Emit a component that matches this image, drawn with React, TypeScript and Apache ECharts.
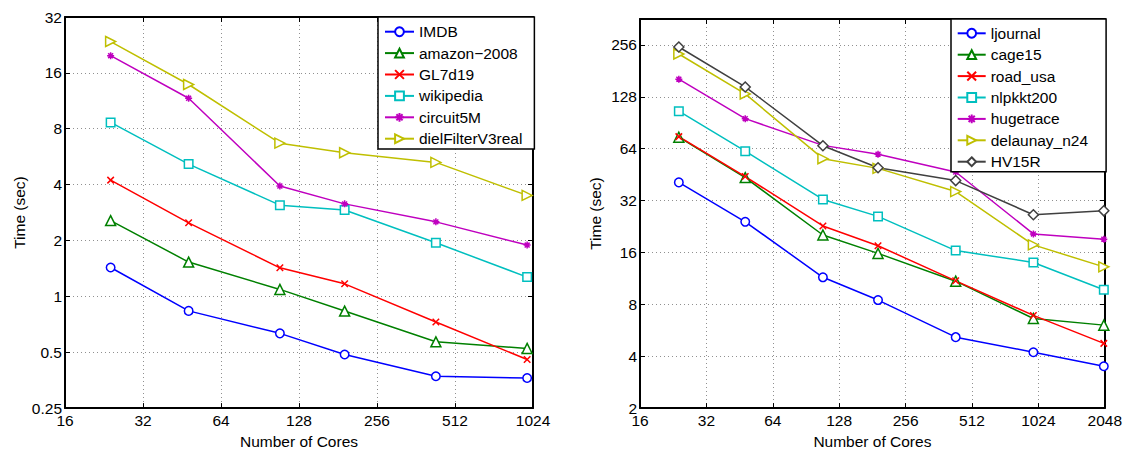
import React, { useEffect, useRef } from "react";
import * as echarts from "echarts";

const leftCores = [24, 48, 108, 192, 432, 972];
const rightCores = [24, 48, 108, 192, 432, 972, 2028];

const leftNames = ["IMDB", "amazon\u22122008", "GL7d19", "wikipedia", "circuit5M", "dielFilterV3real"];
const imdb = [1.43, 0.835, 0.632, 0.486, 0.371, 0.363];
const amazon2008 = [2.56, 1.53, 1.09, 0.833, 0.569, 0.524];
const gl7d19 = [4.23, 2.49, 1.425, 1.168, 0.727, 0.457];
const wikipedia = [8.65, 5.16, 3.1, 2.92, 1.945, 1.27];
const circuit5M = [19.8, 11.68, 3.93, 3.15, 2.52, 1.89];
const dielFilter = [23.6, 13.85, 6.69, 5.94, 5.27, 3.5];

const rightNames = ["ljournal", "cage15", "road_usa", "nlpkkt200", "hugetrace", "delaunay_n24", "HV15R"];
const ljournal = [40.8, 24.1, 11.48, 8.47, 5.16, 4.22, 3.5];
const cage15 = [74.6, 43.5, 20.2, 15.8, 10.9, 6.62, 6.06];
const roadUsa = [75.2, 44.1, 22.8, 17.5, 10.95, 6.9, 4.75];
const nlpkkt200 = [105.6, 61.9, 32.5, 25.9, 16.4, 14.0, 9.73];
const hugetrace = [162, 95.6, 66.9, 59.5, 46.9, 20.5, 19.1];
const delaunay = [226.8, 133, 56, 49.2, 36.1, 17.7, 13.2];
const hv15r = [249, 146, 66.6, 49.6, 41.8, 26.5, 27.9];

const BLUE = "#0000ff";
const GREEN = "#008000";
const RED = "#ff0000";
const CYAN = "#00bfbf";
const MAGENTA = "#bf00bf";
const OLIVE = "#bfbf00";
const GRAY = "#404040";

const SYM_CIRCLE = "circle";
const SYM_TRI = "triangle";
const SYM_X = "path://M0,0L10,10M0,10L10,0";
const SYM_SQ = "rect";
const SYM_STAR = "path://M5,0L5,10M0,5L10,5M1.5,1.5L8.5,8.5M8.5,1.5L1.5,8.5";
const SYM_RTRI = "path://M0,0L10,5L0,10Z";
const SYM_DIA = "diamond";

const FONT = "'Liberation Sans', Arial, Helvetica, sans-serif";
const FS = 15.5;

function isPow2(v: number) {
  const l = Math.log2(v);
  return Math.abs(l - Math.round(l)) < 1e-6;
}

function fmt(v: number) {
  if (!isPow2(v)) return "";
  return String(+(+v).toPrecision(6));
}

function mkSeries(name: string, xs: number[], ys: number[], color: string, symbol: string, size: number, axisIdx: number) {
  return {
    type: "line",
    name,
    xAxisIndex: axisIdx,
    yAxisIndex: axisIdx,
    data: xs.map((x, i) => [x, ys[i]]),
    symbol,
    symbolSize: size,
    showAllSymbol: true,
    lineStyle: { color, width: 1.5 },
    itemStyle: { color: "#ffffff", borderColor: color, borderWidth: 1.5 },
    emphasis: { disabled: true },
    z: 2,
  };
}

function mainAxis(pos: "bottom" | "left", gridIndex: number, min: number, max: number, name: string, gap: number) {
  return {
    type: "log",
    logBase: 2,
    gridIndex,
    position: pos,
    min,
    max,
    name,
    nameLocation: "middle",
    nameGap: gap,
    nameTextStyle: { fontFamily: FONT, fontSize: FS, color: "#000" },
    axisLine: { show: true, onZero: false, lineStyle: { color: "#000", width: 2 } },
    axisTick: { show: true, inside: true, length: 5, lineStyle: { color: "#000", width: 1 } },
    axisLabel: {
      show: true,
      margin: pos === "bottom" ? 4 : 3,
      fontFamily: FONT,
      fontSize: FS,
      color: "#000",
      formatter: (v: number) => fmt(v),
      showMaxLabel: isPow2(max),
    },
    splitLine: { show: true, lineStyle: { color: "#909090", width: 1, type: [1, 3] } },
    minorTick: { show: false },
  };
}

function auxAxis(pos: "top" | "right", gridIndex: number, min: number, max: number) {
  return {
    type: "log",
    logBase: 2,
    gridIndex,
    position: pos,
    min,
    max,
    axisLine: { show: true, onZero: false, lineStyle: { color: "#000", width: 2 } },
    axisTick: { show: true, inside: true, length: 5, lineStyle: { color: "#000", width: 1 } },
    axisLabel: { show: false },
    splitLine: { show: false },
  };
}

export default function App() {
  const ref = useRef<HTMLDivElement>(null);
  useEffect(() => {
    if (!ref.current) return;
    const chart = echarts.init(ref.current, undefined, { renderer: "svg" });
    const series = [
      mkSeries(leftNames[0], leftCores, imdb, BLUE, SYM_CIRCLE, 8.5, 0),
      mkSeries(leftNames[1], leftCores, amazon2008, GREEN, SYM_TRI, 10, 0),
      mkSeries(leftNames[2], leftCores, gl7d19, RED, SYM_X, 6.5, 0),
      mkSeries(leftNames[3], leftCores, wikipedia, CYAN, SYM_SQ, 8.5, 0),
      mkSeries(leftNames[4], leftCores, circuit5M, MAGENTA, SYM_STAR, 7, 0),
      mkSeries(leftNames[5], leftCores, dielFilter, OLIVE, SYM_RTRI, 10, 0),
      mkSeries(rightNames[0], rightCores, ljournal, BLUE, SYM_CIRCLE, 8.5, 2),
      mkSeries(rightNames[1], rightCores, cage15, GREEN, SYM_TRI, 10, 2),
      mkSeries(rightNames[2], rightCores, roadUsa, RED, SYM_X, 6.5, 2),
      mkSeries(rightNames[3], rightCores, nlpkkt200, CYAN, SYM_SQ, 8.5, 2),
      mkSeries(rightNames[4], rightCores, hugetrace, MAGENTA, SYM_STAR, 7, 2),
      mkSeries(rightNames[5], rightCores, delaunay, OLIVE, SYM_RTRI, 10, 2),
      mkSeries(rightNames[6], rightCores, hv15r, GRAY, SYM_DIA, 10, 2),
    ];
    const legendCommon = {
      orient: "vertical",
      backgroundColor: "#ffffff",
      borderColor: "#000",
      borderWidth: 1.5,
      borderRadius: 0,
      itemHeight: 11,
      itemGap: 5.4,
      selectedMode: false,
      textStyle: { fontFamily: FONT, fontSize: FS, color: "#000", lineHeight: 16 },
      z: 10,
    };
    chart.setOption({
      animation: false,
      backgroundColor: "#ffffff",
      grid: [
        { left: 65, top: 17, width: 468, height: 400, containLabel: false },
        { left: 640, top: 19, width: 467, height: 399, containLabel: false },
      ],
      xAxis: [
        mainAxis("bottom", 0, 16, 1024, "Number of Cores", 22),
        auxAxis("top", 0, 16, 1024),
        mainAxis("bottom", 1, 16, 2048, "Number of Cores", 22),
        auxAxis("top", 1, 16, 2048),
      ],
      yAxis: [
        mainAxis("left", 0, 0.25, 32, "Time (sec)", 38),
        auxAxis("right", 0, 0.25, 32),
        mainAxis("left", 1, 2, 362, "Time (sec)", 37),
        auxAxis("right", 1, 2, 362),
      ],
      legend: [
        { ...legendCommon, left: 378, top: 17, itemWidth: 29, padding: [6.7, 12, 2.3, 6], data: leftNames },
        { ...legendCommon, left: 951, top: 19, itemWidth: 28, padding: [6.3, 18, 2, 5.7], data: rightNames },
      ],
      series,
    });
    return () => chart.dispose();
  }, []);
  return <div ref={ref} style={{ position: "absolute", left: 0, top: 0, width: 1125, height: 454 }} />;
}
